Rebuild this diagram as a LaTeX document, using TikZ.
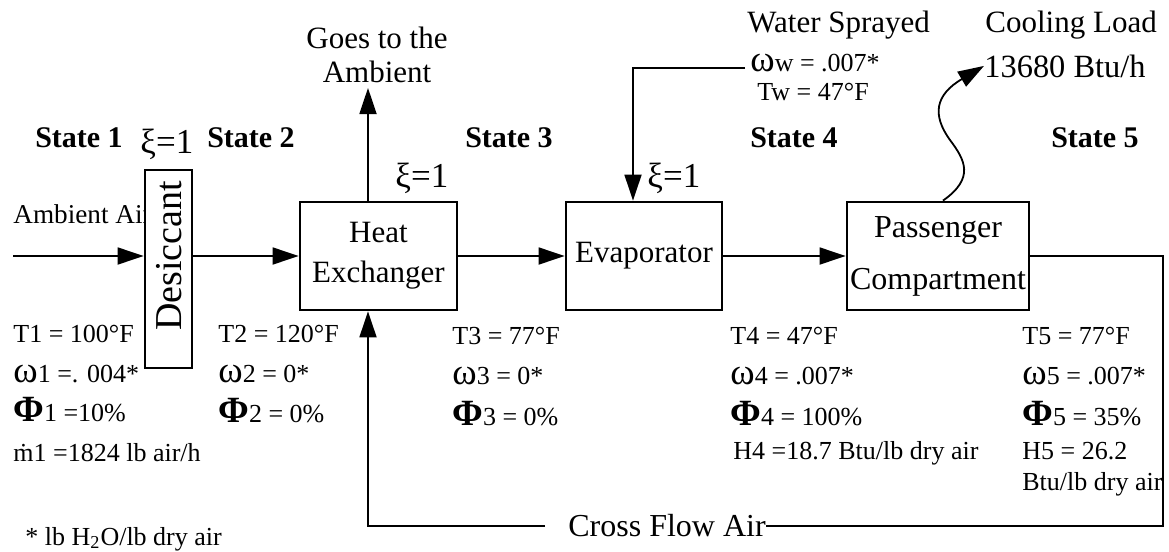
\documentclass[tikz,border=0pt]{standalone}
\usepackage{fontspec}
\setmainfont{Liberation Serif}
\usetikzlibrary{positioning,arrows.meta,calc}
\newcommand{\wsym}{{\fontsize{18.5}{16}\selectfont ω}}
\newcommand{\fsym}{{\bfseries\fontsize{18.5}{16}\selectfont Φ}}
\tikzset{
  blk/.style  ={rectangle, draw=black, line width=1.4pt, fill=white, align=center,
                inner sep=1pt, font=\fontsize{15.5}{20}\selectfont},
  lbl/.style  ={inner sep=0pt, font=\fontsize{15.5}{17}\selectfont},
  state/.style={inner sep=0pt, anchor=base, font=\bfseries\fontsize{15}{17}\selectfont},
  xi/.style   ={inner sep=0pt, anchor=base west, font=\fontsize{17.5}{17}\selectfont},
  dat/.style  ={inner sep=0pt, anchor=base west, font=\fontsize{13}{15}\selectfont},
  arr/.style  ={-{Triangle[length=13pt,width=8.5pt]}, line width=0.9pt},
  wire/.style ={line width=0.9pt},
}
\begin{document}
\begin{tikzpicture}[x=0.5pt, y=-0.5pt]
  \useasboundingbox (0,0) rectangle (1169,552);

  % components (desiccant box drawn over the inlet label)
  \node[lbl, anchor=base west, font=\fontsize{13.6}{14}\selectfont] (ambair) at (13,223) {Ambient Air};
  \node[blk, minimum width=23.5pt, minimum height=99pt] (dess) at (168.5,269) {};
  \node[rotate=90, inner sep=0pt, font=\fontsize{19}{19}\selectfont] (desstxt) at (169,256) {Desiccant};
  \node[blk, minimum width=78.5pt, minimum height=54pt] (hx) at (378.5,256) {Heat\\Exchanger};
  \node[blk, minimum width=78pt, minimum height=54pt] (evap) at (644,256) {Evaporator};
  \node[blk, minimum width=91pt, minimum height=54pt, font=\fontsize{16}{26}\selectfont]
       (pass) at (938,256) {Passenger\\Compartment};

  % top labels
  \node[lbl, align=center] (goes) at (377,55) {Goes to the\\Ambient};
  \node[lbl, anchor=base west] (water) at (747,32) {Water Sprayed};
  \node[dat] (omw) at (750,71) {\wsym w = .007*};
  \node[dat] (tw) at (757,100) {Tw = 47°F};
  \node[lbl, anchor=base west] (cool1) at (985,32) {Cooling Load};
  \node[lbl, anchor=base west, font=\fontsize{16.2}{17}\selectfont] (cool2) at (984,77) {13680 Btu/h};

  % states
  \node[state] (st1) at (79,147) {State 1};
  \node[state] (st2) at (251,147) {State 2};
  \node[state] (st3) at (509,147) {State 3};
  \node[state] (st4) at (794,147) {State 4};
  \node[state] (st5) at (1095,147) {State 5};
  \node[xi] (xi1) at (140,153) {ξ=1};
  \node[xi] (xi2) at (395,187) {ξ=1};
  \node[xi] (xi3) at (647,187) {ξ=1};

  % state data
  \node[dat] (t1) at (13,342) {T1 = 100°F};
  \node[dat] (w1) at (13,382) {\wsym1 =. 004*};
  \node[dat] (f1) at (13,421) {\fsym1 =10\%};
  \node[dat] (m1) at (13,461) {\.m1 =1824 lb air/h};
  \node[dat] (t2) at (218,342) {T2 = 120°F};
  \node[dat] (w2) at (218,382) {\wsym2 = 0*};
  \node[dat] (f2) at (218,422) {\fsym2 = 0\%};
  \node[dat] (t3) at (452,344) {T3 = 77°F};
  \node[dat] (w3) at (452,384) {\wsym3 = 0*};
  \node[dat] (f3) at (452,425) {\fsym3 = 0\%};
  \node[dat] (t4) at (730,344) {T4 = 47°F};
  \node[dat] (w4) at (730,384) {\wsym4 = .007*};
  \node[dat] (f4) at (730,425) {\fsym4 = 100\%};
  \node[dat] (h4) at (733,459) {H4 =18.7 Btu/lb dry air};
  \node[dat] (t5) at (1022,344) {T5 = 77°F};
  \node[dat] (w5) at (1022,384) {\wsym5 = .007*};
  \node[dat] (f5) at (1022,425) {\fsym5 = 35\%};
  \node[dat] (h5) at (1022,459) {H5 = 26.2};
  \node[dat] (h5b) at (1022,490) {Btu/lb dry air};
  \node[dat] (note) at (25,545) {* lb H\textsubscript{2}O/lb dry air};
  \node[lbl, font=\fontsize{16}{17}\selectfont, anchor=west] (cross) at (568,526) {Cross Flow Air};

  % helper points
  \coordinate (ambin) at (13,256);
  \coordinate (ambtip) at (368,88);
  \coordinate (wstart) at (745,68);
  \coordinate (wbend) at (633,68);
  \coordinate (cfr) at (1163,526);
  \coordinate (cfl) at (368,526);

  % arrows
  \draw[arr] (ambin) -- (ambin -| dess.west);
  \draw[arr] (dess.east |- hx.west) -- (hx.west);
  \draw[arr] (hx.east) -- (evap.west);
  \draw[arr] (evap.east) -- (pass.west);
  \draw[arr] (hx.north -| ambtip) -- (ambtip);
  \draw[arr] (wstart) -- (wbend) -- (wbend |- evap.north);
  \draw[arr] ([xshift=2.5pt]pass.north) .. controls (975,178) and (965,160) .. (950,140)
       .. controls (932,115) and (935,95) .. (cool2.west);

  % cross flow loop
  \draw[wire] (pass.east) -| (cfr) -- (cross.east);
  \draw[arr] ([xshift=-11.5pt]cross.west) -- (cfl) -- (cfl |- hx.south);
\end{tikzpicture}
\end{document}
